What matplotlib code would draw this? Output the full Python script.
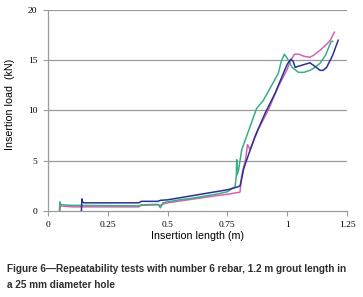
import matplotlib
matplotlib.use("Agg")
from matplotlib import pyplot as plt

# test 1 (blue)
blue_x = [0.14, 0.142, 0.145, 0.15, 0.2, 0.3, 0.38, 0.39, 0.46, 0.47, 0.5, 0.55, 0.6,
          0.65, 0.7, 0.75, 0.78, 0.795, 0.803, 0.81, 0.817, 0.831, 0.865, 0.907,
          0.949, 0.984, 1.0, 1.015, 1.025, 1.033, 1.06, 1.095, 1.11, 1.137, 1.15,
          1.165, 1.19, 1.213]
blue_y = [0.0, 1.2, 0.9, 0.8, 0.8, 0.8, 0.8, 0.95, 0.95, 1.05, 1.1, 1.3, 1.5,
          1.7, 1.9, 2.1, 2.3, 2.4, 2.5, 3.2, 4.1, 5.1, 7.4, 9.7,
          11.7, 13.7, 14.6, 15.1, 14.9, 14.3, 14.5, 14.75, 14.5, 14.0, 14.0,
          14.3, 15.5, 17.0]

# test 2 (magenta)
pink_x = [0.05, 0.052, 0.1, 0.38, 0.39, 0.46, 0.47, 0.49, 0.5, 0.6, 0.7, 0.75, 0.8,
          0.803, 0.809, 0.818, 0.826, 0.834, 0.845, 0.879, 0.921, 0.963, 0.998,
          1.015, 1.03, 1.05, 1.07, 1.095, 1.11, 1.137, 1.165, 1.18, 1.197]
pink_y = [0.0, 0.5, 0.4, 0.4, 0.55, 0.6, 0.55, 0.75, 0.8, 1.15, 1.5, 1.65, 1.85,
          1.9, 3.4, 4.4, 5.1, 6.6, 6.1, 8.1, 10.05, 12.4, 14.0,
          15.0, 15.6, 15.6, 15.4, 15.3, 15.5, 16.0, 16.6, 17.0, 17.8]

# test 3 (green)
green_x = [0.048, 0.05, 0.055, 0.1, 0.38, 0.39, 0.46, 0.47, 0.48, 0.5, 0.55, 0.6,
           0.65, 0.7, 0.75, 0.782, 0.787, 0.789, 0.791, 0.797, 0.81, 0.845, 0.872,
           0.9, 0.928, 0.963, 0.975, 0.988, 1.0, 1.02, 1.047, 1.07, 1.095, 1.11,
           1.137, 1.16, 1.183, 1.19]
green_y = [0.0, 0.9, 0.6, 0.55, 0.5, 0.6, 0.65, 0.3, 0.8, 0.9, 1.1, 1.25,
           1.45, 1.65, 1.9, 2.4, 3.4, 5.1, 3.6, 4.1, 6.1, 8.4, 10.2,
           11.0, 12.2, 13.7, 14.9, 15.6, 15.2, 14.3, 13.8, 13.8, 14.0, 14.2,
           14.7, 15.5, 16.85, 16.9]

x_ticks = [0, 0.25, 0.5, 0.75, 1, 1.25]
x_labels = ["0", "0.25", "0.5", "0.75", "1", "1.25"]
y_ticks = [0, 5, 10, 15, 20]

grey = "#9a9a9a"

fig = plt.figure(figsize=(3.63, 2.97), dpi=100)
ax = fig.add_axes([0.132, 0.29, 0.824, 0.676])

for y in y_ticks[1:]:
    ax.axhline(y, color=grey, lw=0.9, zorder=1)

ax.plot(pink_x, pink_y, color="#d462b2", lw=1.1, zorder=3)
ax.plot(green_x, green_y, color="#3aae84", lw=1.1, zorder=4)
ax.plot(blue_x, blue_y, color="#2b3192", lw=1.1, zorder=5)

ax.set_xlim(0, 1.25)
ax.set_ylim(0, 20)
ax.set_xticks(x_ticks)
ax.set_xticklabels(x_labels)
ax.set_yticks(y_ticks)

for s in ["top", "right"]:
    ax.spines[s].set_visible(False)
for s in ["left", "bottom"]:
    ax.spines[s].set_color(grey)
    ax.spines[s].set_linewidth(0.9)

ax.tick_params(axis="both", direction="out", length=3.5, width=0.8, color=grey,
               labelsize=6.8, pad=4)
for lab in ax.get_xticklabels() + ax.get_yticklabels():
    lab.set_family("Liberation Serif")

ax.set_xlabel("Insertion length (m)", fontsize=7.7, family="Liberation Sans", labelpad=1)
ax.set_ylabel("Insertion load  (kN)", fontsize=7.7, family="Liberation Sans")
ax.yaxis.set_label_coords(-0.11, 0.53)

cap = dict(fontsize=7.2, weight="bold", family="Liberation Sans", color="#2e2e2e", va="baseline")
fig.text(0.019, 0.084, "Figure 6\u2014Repeatability tests with number 6 rebar, 1.2 m grout length in", **cap)
fig.text(0.019, 0.030, "a 25 mm diameter hole", **cap)

fig.savefig("out.png", dpi=100)
